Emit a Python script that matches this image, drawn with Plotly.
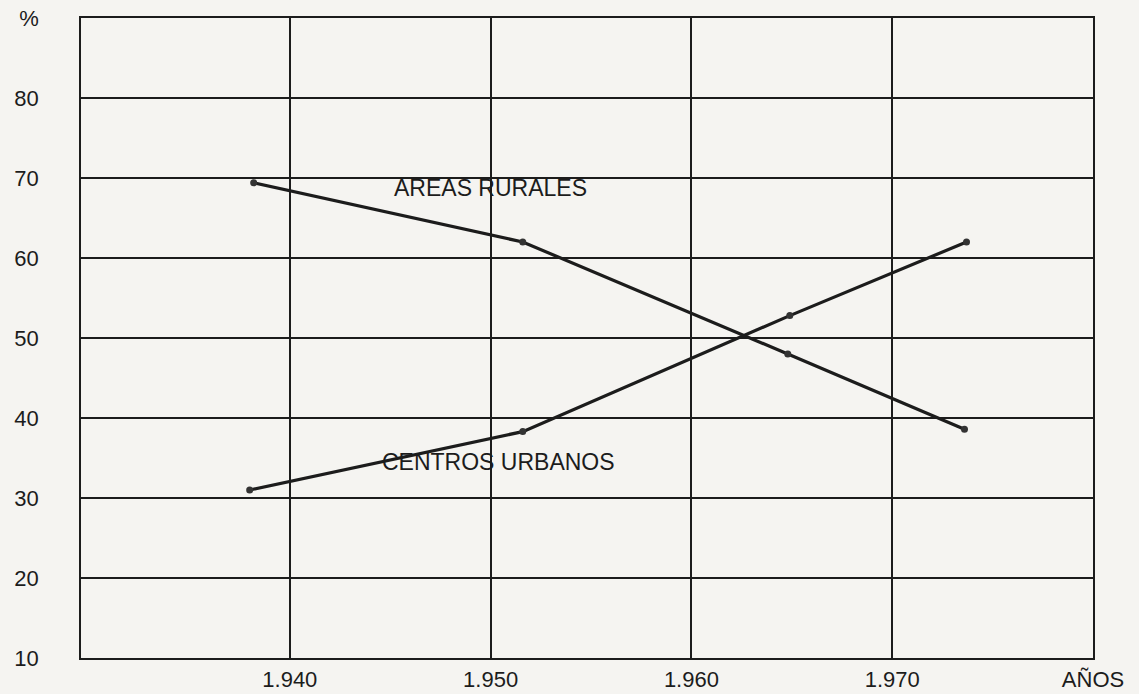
import plotly.graph_objects as go

# Data
years_rural = [1938.2, 1951.6, 1964.8, 1973.6]
rural = [69.4, 62.0, 48.0, 38.6]
years_urban = [1938.0, 1951.6, 1964.9, 1973.7]
urban = [31.0, 38.3, 52.8, 62.0]

x_tickvals = [1940, 1950, 1960, 1970, 1980]
x_ticktext = ["1.940", "1.950", "1.960", "1.970", "AÑOS"]
y_tickvals = [10, 20, 30, 40, 50, 60, 70, 80, 90]
y_ticktext = ["10", "20", "30", "40", "50", "60", "70", "80", "%"]

ink = "#1c1c1c"
paper = "#f5f4f1"
font = "Liberation Sans, Arial, sans-serif"

fig = go.Figure()
fig.add_trace(go.Scatter(
    x=years_rural, y=rural, mode="lines+markers", name="AREAS RURALES",
    line=dict(color=ink, width=3.2), marker=dict(color="#333", size=7),
    showlegend=False))
fig.add_trace(go.Scatter(
    x=years_urban, y=urban, mode="lines+markers", name="CENTROS URBANOS",
    line=dict(color=ink, width=3.2), marker=dict(color="#333", size=7),
    showlegend=False))

fig.add_annotation(x=1950.0, y=68.7, text="AREAS RURALES", showarrow=False,
                   font=dict(family=font, size=23, color=ink))
fig.add_annotation(x=1950.4, y=34.5, text="CENTROS URBANOS", showarrow=False,
                   font=dict(family=font, size=23, color=ink))

fig.update_layout(
    width=1139, height=694,
    margin=dict(l=81, r=46, t=18, b=36),
    paper_bgcolor=paper, plot_bgcolor=paper,
    font=dict(family=font, size=22, color=ink),
    xaxis=dict(range=[1929.6, 1980], tickvals=x_tickvals, ticktext=x_ticktext,
               showgrid=True, gridcolor=ink, gridwidth=1.5, zeroline=False,
               showline=True, mirror=True, linecolor=ink, linewidth=1.8,
               ticks="", ticklabelstandoff=1, automargin=False,
               tickfont=dict(size=22)),
    yaxis=dict(range=[10, 90], tickvals=y_tickvals, ticktext=y_ticktext,
               showgrid=True, gridcolor=ink, gridwidth=1.5, zeroline=False,
               showline=True, mirror=True, linecolor=ink, linewidth=1.8,
               ticks="", ticklabelstandoff=36, automargin=False,
               tickfont=dict(size=22)),
)

fig.write_html(
    "out.html",
    config={"displayModeBar": False},
    post_script="document.body.style.margin='0';"
                "document.body.style.background='#f5f4f1';",
)
